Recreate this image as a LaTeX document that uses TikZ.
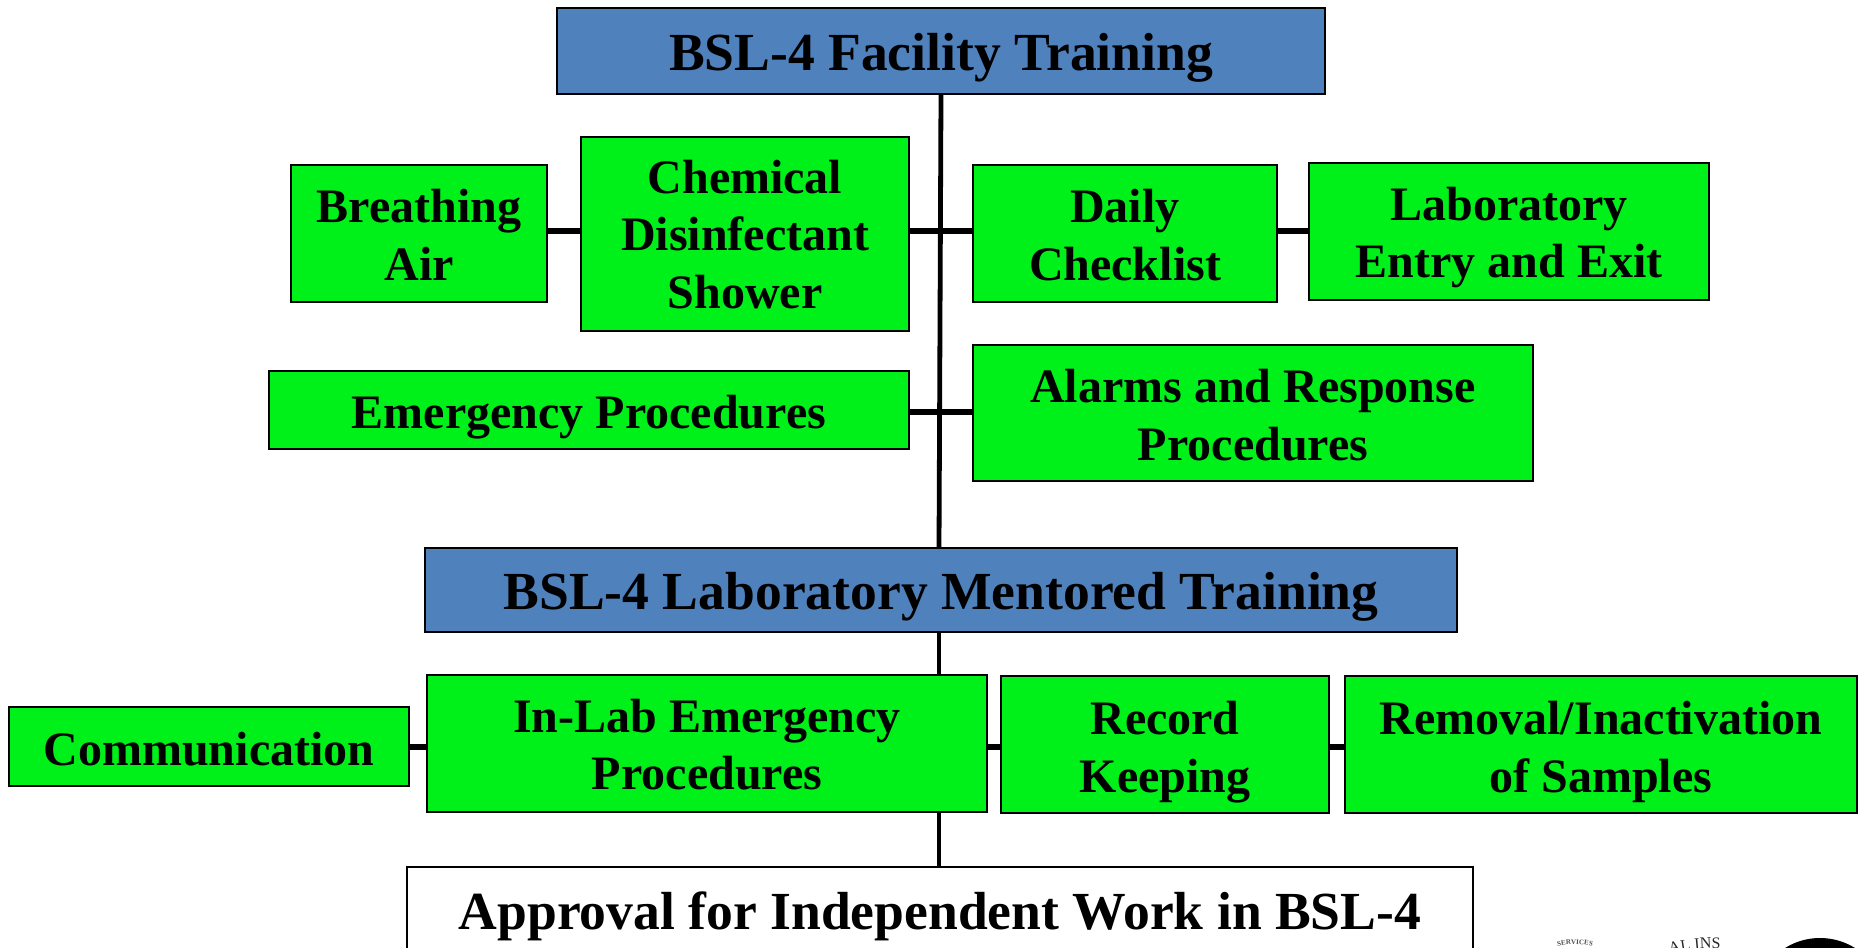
\documentclass[tikz,border=0pt]{standalone}
\usepackage{fontspec}
\setmainfont{Liberation Serif}
\usetikzlibrary{calc,decorations.text}
\definecolor{hdr}{HTML}{4F81BD}
\definecolor{grn}{HTML}{00F01A}
\tikzset{
  x=1pt,y=-1pt,
  box/.style={draw=black,line width=2.4pt,inner sep=0pt,align=center,font=\bfseries},
  greenbox/.style={box,fill=grn,font=\fontsize{48}{57.5}\bfseries\selectfont},
  bluebox/.style={box,fill=hdr,font=\fontsize{53.6}{60}\bfseries\selectfont},
  whitebox/.style={box,fill=white,font=\fontsize{53.6}{60}\bfseries\selectfont},
  link/.style={draw=black,line width=5.5pt},
  spine/.style={draw=black,line width=4.8pt},
  tb/.style 2 args={text height=#1pt,text depth=#2pt},
}
\begin{document}
\begin{tikzpicture}
\useasboundingbox (0,0) rectangle (1864,948);
\begin{scope}
\clip (0,0) rectangle (1864,948);
\coordinate (r1) at (0,231);
\coordinate (r2) at (0,412);
\coordinate (r3) at (0,747);
\coordinate (sp1) at (941,94);
\coordinate (sp2) at (939,548);
\coordinate (sp3) at (939,632);
\coordinate (sp4) at (939,867);
\draw[spine] (sp1) -- (sp2);
\draw[spine] (sp3) -- (sp4);
\node[bluebox,tb={54.7}{15.3},minimum width=768pt,minimum height=86pt] (facility) at (941,51) {BSL-4 Facility Training};
\node[greenbox,tb={106.7}{13.3},minimum width=256pt,minimum height=137pt] (breath) at (419,233.5) {Breathing\\Air};
\node[greenbox,tb={159.3}{10.7},minimum width=328pt,minimum height=194pt] (chem) at (745,234) {Chemical\\Disinfectant\\Shower};
\node[greenbox,tb={106.7}{13.3},minimum width=304pt,minimum height=137pt] (daily) at (1125,233.5) {Daily\\Checklist};
\node[greenbox,tb={106.3}{13.7},minimum width=400pt,minimum height=137pt] (entry) at (1509,231.5) {Laboratory\\Entry and Exit};
\node[greenbox,tb={53.5}{16.5},minimum width=640pt,minimum height=78pt] (emerg) at (589,410) {Emergency Procedures};
\node[greenbox,tb={107.1}{12.9},minimum width=560pt,minimum height=136pt] (alarms) at (1253,413) {Alarms and Response\\Procedures};
\node[bluebox,tb={54.3}{15.7},minimum width=1032pt,minimum height=84pt] (mentored) at (941,590) {BSL-4 Laboratory Mentored Training};
\node[greenbox,tb={53.5}{16.5},minimum width=400pt,minimum height=79pt] (comm) at (209,746.5) {Communication};
\node[greenbox,tb={106}{14},minimum width=560pt,minimum height=137pt] (inlab) at (707,743.5) {In-Lab Emergency\\Procedures};
\node[greenbox,tb={107.5}{12.5},minimum width=328pt,minimum height=137pt] (record) at (1165,744.5) {Record\\Keeping};
\node[greenbox,tb={107.5}{12.5},minimum width=512pt,minimum height=137pt] (removal) at (1601,744.5) {Removal/Inactivation\\of Samples};
\node[whitebox,tb={17}{53},minimum width=1066pt,minimum height=160pt] (approval) at (940,947) {Approval for Independent Work in BSL-4};
\draw[link] (breath.east |- r1) -- (chem.west |- r1);
\draw[link] (chem.east |- r1) -- (daily.west |- r1);
\draw[link] (daily.east |- r1) -- (entry.west |- r1);
\draw[link] (emerg.east |- r2) -- (alarms.west |- r2);
\draw[link] (comm.east |- r3) -- (inlab.west |- r3);
\draw[link] (inlab.east |- r3) -- (record.west |- r3);
\draw[link] (record.east |- r3) -- (removal.west |- r3);
\path[decorate,decoration={text along path,text align=center,text={|\fontsize{7}{7}\bfseries\selectfont\color{black!70}|SERVICES}}]
  (1545,951) .. controls (1560,942) and (1590,942) .. (1605,951);
\path[decorate,decoration={text along path,text={|\fontsize{16}{16}\selectfont\color{black!85}|AL INS}}]
  (1670,954) .. controls (1685,950) and (1705,947) .. (1732,949);
\fill[black] (1820,1004) circle (66);
\end{scope}
\end{tikzpicture}
\end{document}
